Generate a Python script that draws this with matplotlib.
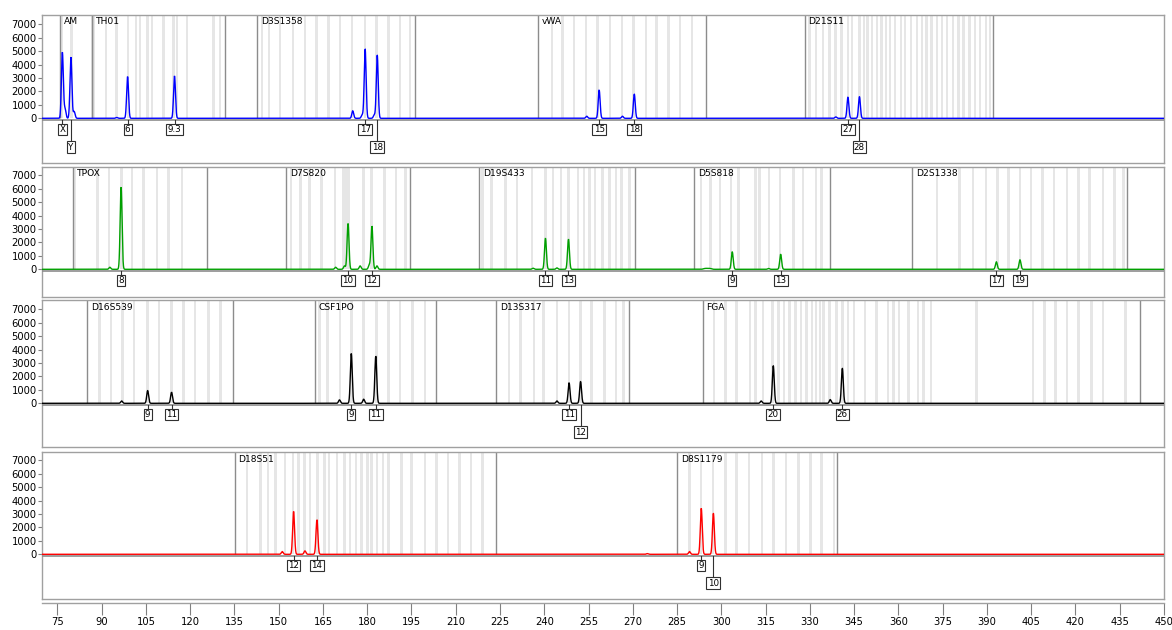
import numpy as np
import matplotlib
matplotlib.use('Agg')
import matplotlib.pyplot as plt

plt.rcParams['font.family'] = ['DejaVu Sans']

# ---------------- data ----------------
size_ticks = [75, 90, 105, 120, 135, 150, 165, 180, 195, 210, 225, 240, 255, 270,
              285, 300, 315, 330, 345, 360, 375, 390, 405, 420, 435, 450]
height_ticks = [0, 1000, 2000, 3000, 4000, 5000, 6000, 7000]

# Panel 1 (blue)
loci1_names = ['AM', 'TH01', 'D3S1358', 'vWA', 'D21S11']
loci1_start = [75.9, 86.9, 142.6, 237.8, 328.2]
loci1_end = [86.9, 131.8, 196.2, 294.7, 391.9]
bins1 = [
    [76.6, 79.8],
    [87.5, 91.5, 95.1, 98.9, 101.7, 103.0, 105.6, 107.0, 110.9, 114.3, 115.5, 118.9, 127.9, 130.1],
    [144.3, 146.8, 150.5, 154.8, 158.9, 162.9, 166.8, 170.8, 174.8, 179.3, 183.2, 187.2, 191.1, 194.5],
    [242.6, 246.1, 250.1, 254.1, 258.1, 262.3, 266.3, 270.2, 274.4, 278.1, 282.1, 286.0, 290.0],
    [329.9, 332.1, 334.4, 336.6, 338.6, 340.8, 342.9, 344.2, 346.8, 348.4, 349.5, 351.0, 352.7,
     354.2, 355.8, 357.2, 358.9, 360.8, 362.3, 364.2, 366.3, 368.0, 369.6, 371.3, 373.0, 374.7,
     376.4, 378.5, 380.4, 382.0, 384.1, 386.0, 387.7, 389.7, 391.1],
]
peaks1_bp = [76.7, 77.6, 79.6, 80.7, 95.1, 98.8, 114.7, 175.1, 178.3, 179.3, 182.4, 183.4,
             254.4, 258.6, 266.5, 270.5, 338.8, 342.9, 346.8]
peaks1_h = [4900, 700, 4550, 500, 60, 3100, 3150, 550, 250, 5150, 250, 4700,
            150, 2100, 150, 1800, 100, 1560, 1600]
alleles1_text = ['X', 'Y', '6', '9.3', '17', '18', '15', '18', '27', '28']
alleles1_bp = [76.7, 79.6, 98.8, 114.7, 179.3, 183.4, 258.6, 270.5, 342.9, 346.8]
alleles1_row = [1, 2, 1, 1, 1, 2, 1, 1, 1, 2]

# Panel 2 (green)
loci2_names = ['TPOX', 'D7S820', 'D19S433', 'D5S818', 'D2S1338']
loci2_start = [80.2, 152.6, 217.9, 290.9, 364.7]
loci2_end = [125.6, 194.6, 270.7, 336.9, 437.6]
bins2 = [
    [80.9, 88.6, 92.5, 96.7, 100.3, 104.2, 108.7, 112.6, 117.2],
    [154.1, 157.4, 160.4, 164.5, 169.1, 171.9, 172.9, 173.9, 178.8, 181.4, 185.9, 189.8, 193.0],
    [219.0, 222.2, 226.8, 230.7, 235.8, 240.4, 243.0, 245.6, 248.2, 251.4, 253.4, 255.3, 257.2,
     259.8, 262.1, 264.3, 266.2, 268.8],
    [293.1, 296.3, 299.5, 303.3, 305.9, 311.6, 312.9, 316.1, 319.9, 324.4, 327.6, 332.1, 334.0],
    [373.0, 380.7, 385.2, 389.7, 393.5, 397.3, 401.2, 405.0, 408.8, 412.7, 417.2, 421.0, 424.8,
     429.3, 433.2, 436.3],
]
peaks2_bp = [92.8, 96.6, 169.3, 172.3, 173.5, 177.6, 180.7, 181.6, 183.3, 236.2, 240.4, 244.3,
             248.2, 303.7, 316.0, 320.1, 393.2, 401.2]
peaks2_h = [150, 6100, 150, 250, 3400, 250, 300, 3200, 250, 80, 2300, 100,
            2230, 1290, 60, 1120, 550, 700]
bumps2_bp = [295.3]
bumps2_h = [70]
alleles2_text = ['8', '10', '12', '11', '13', '9', '13', '17', '19']
alleles2_bp = [96.6, 173.5, 181.6, 240.4, 248.2, 303.7, 320.1, 393.2, 401.2]
alleles2_row = [1, 1, 1, 1, 1, 1, 1, 1, 1]

# Panel 3 (black)
loci3_names = ['D16S539', 'CSF1PO', 'D13S317', 'FGA']
loci3_start = [85.0, 162.2, 223.8, 293.7]
loci3_end = [134.4, 203.4, 268.8, 441.8]
bins3 = [
    [89.3, 93.2, 97.1, 101.0, 105.5, 109.4, 113.7, 117.8, 121.7, 126.3, 130.2],
    [163.9, 166.5, 170.7, 174.6, 178.8, 183.1, 187.2, 191.1, 195.4, 199.5],
    [228.1, 232.0, 236.5, 239.7, 244.3, 248.4, 252.3, 256.0, 260.4, 264.3, 266.8],
    [297.5, 301.4, 305.2, 309.7, 311.6, 314.2, 317.4, 319.3, 321.2, 323.1, 325.1, 327.0, 328.9,
     330.8, 332.1, 333.4, 334.6, 336.6, 339.1, 341.0, 343.0, 344.9, 348.7, 352.6, 356.4, 358.3,
     360.2, 363.4, 366.6, 368.5, 371.1, 386.5, 405.6, 409.5, 413.3, 417.2, 421.0, 425.5, 429.3,
     437.0],
]
peaks3_bp = [96.8, 105.6, 113.7, 170.6, 174.6, 178.8, 182.9, 244.3, 248.4, 252.3, 313.5, 317.6,
             336.9, 341.0]
peaks3_h = [170, 940, 820, 250, 3700, 300, 3500, 170, 1530, 1610, 170, 2800, 270, 2600]
alleles3_text = ['9', '11', '9', '11', '11', '12', '20', '26']
alleles3_bp = [105.6, 113.7, 174.6, 182.9, 248.4, 252.3, 317.6, 341.0]
alleles3_row = [1, 1, 1, 1, 1, 2, 1, 1]

# Panel 4 (red)
loci4_names = ['D18S51', 'D8S1179']
loci4_start = [135.1, 285.1]
loci4_end = [223.8, 339.1]
bins4 = [
    [139.2, 143.8, 146.4, 149.0, 152.2, 154.8, 156.7, 158.7, 160.6, 163.2, 165.6, 167.1, 169.7,
     172.3, 174.2, 176.2, 178.1, 180.1, 181.4, 183.3, 185.3, 187.2, 191.7, 195.0, 199.5, 203.4,
     207.3, 211.2, 215.1, 219.0],
    [289.2, 293.1, 297.2, 301.4, 305.2, 309.4, 313.8, 317.6, 321.9, 326.1, 330.2, 334.0, 338.1],
]
peaks4_bp = [151.2, 155.05, 158.9, 162.96, 274.9, 289.2, 293.2, 297.3]
peaks4_h = [200, 3180, 250, 2560, 50, 200, 3420, 3050]
alleles4_text = ['12', '14', '9', '10']
alleles4_bp = [155.05, 162.96, 293.2, 297.3]
alleles4_row = [1, 1, 1, 2]

panels = [
    dict(color='#0000FF', names=loci1_names, start=loci1_start, end=loci1_end, bins=bins1,
         pbp=peaks1_bp, ph=peaks1_h, bbp=[], bh=[],
         at=alleles1_text, abp=alleles1_bp, arow=alleles1_row),
    dict(color='#00A000', names=loci2_names, start=loci2_start, end=loci2_end, bins=bins2,
         pbp=peaks2_bp, ph=peaks2_h, bbp=bumps2_bp, bh=bumps2_h,
         at=alleles2_text, abp=alleles2_bp, arow=alleles2_row),
    dict(color='#000000', names=loci3_names, start=loci3_start, end=loci3_end, bins=bins3,
         pbp=peaks3_bp, ph=peaks3_h, bbp=[], bh=[],
         at=alleles3_text, abp=alleles3_bp, arow=alleles3_row),
    dict(color='#FF0000', names=loci4_names, start=loci4_start, end=loci4_end, bins=bins4,
         pbp=peaks4_bp, ph=peaks4_h, bbp=[], bh=[],
         at=alleles4_text, abp=alleles4_bp, arow=alleles4_row),
]

# ---------------- layout ----------------
W, H = 1172, 630
fig = plt.figure(figsize=(W / 100, H / 100), dpi=100)
AX_L, AX_R = 42.3, 1164.0
XLIM = (69.9, 450.0)
U = 74.4  # signal units per pixel
panel_px = [(15, 118.3, 163), (167, 269.3, 297), (300, 403.3, 447), (452, 554.3, 599)]
SIG = 0.32
xs = np.linspace(XLIM[0], XLIM[1], 24000)

for p, (top, zero, bot) in zip(panels, panel_px):
    ax = fig.add_axes([AX_L / W, 1 - bot / H, (AX_R - AX_L) / W, (bot - top) / H])
    ymax = (zero - top) * U
    ymin = -(bot - zero) * U
    ax.set_xlim(*XLIM)
    ax.set_ylim(ymin, ymax)

    for name, lo, hi, bl in zip(p['names'], p['start'], p['end'], p['bins']):
        ax.bar(bl, ymax, width=0.85, bottom=0, color='#E6E6E6', linewidth=0, zorder=1)
        ax.vlines([lo, hi], 0, ymax, color='#8C8C8C', lw=1.0, zorder=2)
        ax.text(lo + 1.3, ymax - 2.5 * U, name, fontsize=6.6, va='top', ha='left',
                color='#000000', zorder=5)

    ax.axhline(-1.3 * U, color='#8C8C8C', lw=1.2, zorder=3)

    ys = np.zeros_like(xs)
    for b, h in zip(p['pbp'], p['ph']):
        ys += h * np.exp(-0.5 * ((xs - b) / SIG) ** 2)
    for b, h in zip(p['bbp'], p['bh']):
        ys += h * np.exp(-0.5 * ((xs - b) / 1.3) ** 4)
    ax.plot(xs, ys, color=p['color'], lw=1.0, zorder=4, solid_joinstyle='miter')

    for t, b, r in zip(p['at'], p['abp'], p['arow']):
        yc = -11.2 * U if r == 1 else -28.9 * U
        ax.plot([b, b], [-1.3 * U, yc + 5 * U], color='#303030', lw=0.8, zorder=4)
        ax.text(b, yc, t, ha='center', va='center', fontsize=6.3, zorder=6,
                bbox=dict(boxstyle='square,pad=0.15', fc='white', ec='#303030', lw=0.8))

    ax.set_xticks([])
    ax.set_yticks(height_ticks)
    ax.set_yticklabels([str(v) for v in height_ticks], fontsize=7.2)
    ax.tick_params(axis='y', length=3, width=0.8, color='#808080', pad=1)
    for s in ax.spines.values():
        s.set_color('#A0A0A0')
        s.set_linewidth(1.0)

# size axis strip
axx = fig.add_axes([AX_L / W, 1 - 603 / H, (AX_R - AX_L) / W, 0.0001])
axx.set_xlim(*XLIM)
axx.set_yticks([])
for side in ['left', 'right', 'top']:
    axx.spines[side].set_visible(False)
axx.spines['bottom'].set_color('#A0A0A0')
axx.spines['bottom'].set_linewidth(1.0)
axx.set_xticks(size_ticks)
axx.set_xticklabels([str(v) for v in size_ticks], fontsize=7.2)
axx.tick_params(axis='x', length=8.6, width=0.8, color='#808080', pad=1.5)

fig.savefig('out.png', dpi=100)
